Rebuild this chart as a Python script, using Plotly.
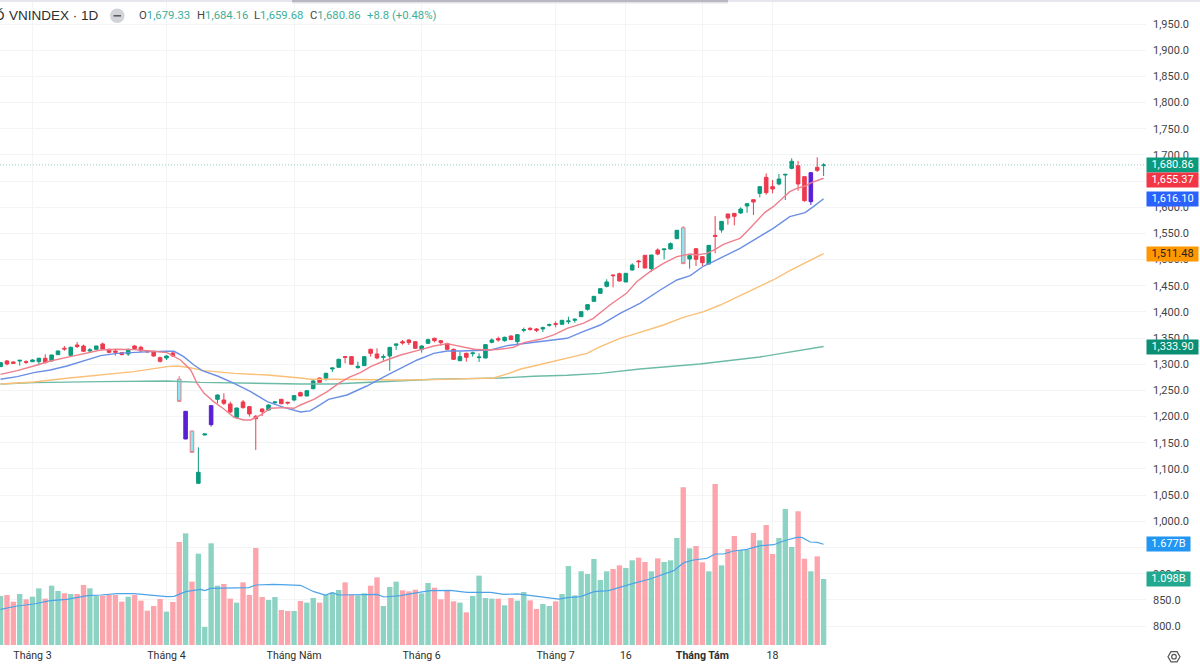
import plotly.graph_objects as go

opens = [1295.5,1306.3,1304.4,1306.3,1305.0,1305.0,1305.0,1311.4,1306.3,1318.4,
1330.5,1317.1,1336.8,1334.9,1325.4,1328.6,1338.8,1328.6,1325.4,1322.2,
1319.7,1334.9,1332.4,1326.0,1324.8,1312.7,1312.0,1321.6,1271.9,1210.1,
1172.6,1072.6,1164.9,1221.0,1233.1,1231.8,1224.2,1198.7,1228.0,1219.1,
1200.6,1214.6,1212.7,1226.7,1233.1,1227.3,1231.8,1245.8,1239.4,1253.4,
1273.8,1273.2,1291.0,1294.2,1314.6,1314.6,1293.6,1297.4,1328.6,1319.7,
1313.3,1315.8,1336.2,1343.2,1346.4,1343.2,1328.6,1340.0,1349.6,1345.1,
1339.4,1328.6,1306.9,1320.9,1320.3,1312.7,1312.0,1341.9,1349.0,1345.1,
1354.0,1343.2,1364.9,1368.7,1367.4,1367.4,1374.4,1377.6,1376.3,1381.4,
1384.0,1390.9,1405.0,1420.2,1435.5,1448.9,1470.5,1473.1,1457.2,1480.1,
1497.3,1508.1,1482.6,1518.3,1518.9,1520.2,1539.9,1560.9,1501.1,1520.8,
1505.6,1491.5,1546.3,1556.5,1587.1,1588.3,1589.0,1602.3,1614.4,1626.5,
1657.1,1639.3,1644.4,1661.5,1674.3,1679.4,1658.4,1666.0,1676.2,1679.33]

highs = [1303.5,1308.2,1305.7,1307.6,1307.6,1309.5,1312.7,1319.0,1318.2,1325.9,
1334.9,1333.7,1342.6,1337.5,1331.1,1335.4,1341.3,1329.8,1329.8,1323.5,
1329.8,1336.8,1335.6,1327.3,1326.0,1314.6,1317.1,1324.8,1277.6,1210.6,
1173.0,1141.4,1167.2,1221.5,1242.6,1244.5,1228.6,1217.0,1231.8,1220.3,
1203.1,1215.9,1223.5,1229.2,1233.6,1228.6,1241.3,1247.7,1250.0,1270.0,
1274.3,1284.0,1293.6,1310.7,1315.8,1315.8,1305.0,1315.0,1329.8,1330.5,
1319.0,1332.8,1339.2,1346.4,1347.7,1343.8,1336.2,1349.0,1350.9,1346.4,
1341.3,1329.8,1324.1,1322.2,1324.1,1320.9,1337.9,1349.6,1352.8,1352.8,
1355.3,1357.2,1370.0,1370.6,1369.3,1371.9,1377.6,1382.0,1384.5,1391.0,
1387.8,1401.0,1414.4,1430.2,1445.0,1462.3,1471.8,1475.0,1474.0,1492.8,
1499.2,1508.5,1509.0,1521.5,1520.6,1532.9,1556.3,1564.1,1510.7,1521.2,
1506.0,1527.6,1583.2,1573.4,1587.5,1588.7,1599.8,1607.2,1614.8,1639.7,
1664.7,1652.0,1663.5,1663.2,1693.4,1688.3,1658.8,1666.4,1695.3,1684.16]

lows = [1295.0,1298.0,1300.6,1297.4,1300.6,1304.4,1298.0,1301.8,1305.7,1318.0,
1326.0,1315.8,1331.1,1323.5,1323.5,1328.0,1328.6,1320.9,1316.5,1317.1,
1315.8,1327.9,1324.1,1322.2,1314.6,1303.1,1308.2,1314.6,1228.0,1156.8,
1131.2,1072.0,1164.6,1180.9,1225.4,1222.2,1206.3,1196.1,1215.2,1200.0,
1136.3,1201.2,1211.4,1222.2,1223.5,1222.9,1229.2,1239.0,1239.0,1252.2,
1265.0,1268.7,1285.3,1292.9,1301.8,1299.3,1291.6,1296.7,1314.6,1309.5,
1306.9,1287.8,1327.3,1337.5,1336.8,1329.2,1322.2,1338.8,1341.9,1335.6,
1327.3,1308.2,1305.6,1305.0,1314.6,1304.4,1311.4,1340.0,1343.2,1343.2,
1346.4,1336.8,1361.0,1364.2,1361.7,1361.7,1371.9,1370.6,1376.0,1377.0,
1379.5,1390.4,1402.4,1420.0,1435.0,1447.0,1447.0,1458.4,1457.0,1478.8,
1483.9,1483.5,1476.3,1508.1,1500.5,1519.6,1539.5,1491.6,1482.6,1487.7,
1487.7,1491.0,1511.9,1551.4,1566.7,1565.4,1587.1,1589.6,1585.1,1618.9,
1624.0,1626.5,1641.8,1613.8,1672.4,1631.6,1610.6,1604.2,1667.3,1659.68]

closes = [1303.1,1300.6,1301.8,1307.6,1303.7,1308.2,1311.4,1303.1,1317.7,1325.4,
1329.2,1332.4,1333.7,1324.8,1327.3,1334.9,1329.2,1322.8,1322.8,1318.4,
1328.6,1329.8,1325.4,1323.5,1315.8,1305.7,1315.8,1315.8,1229.2,1157.3,
1131.8,1093.6,1166.9,1184.7,1241.3,1225.4,1208.9,1216.5,1217.2,1205.1,
1196.1,1209.5,1222.2,1228.0,1224.8,1226.1,1240.1,1239.4,1249.6,1268.1,
1265.5,1282.7,1292.9,1309.5,1313.3,1299.9,1296.1,1314.6,1320.9,1312.0,
1314.6,1332.4,1338.8,1340.7,1341.3,1330.5,1334.9,1347.0,1345.1,1341.3,
1328.6,1309.5,1314.6,1313.3,1321.6,1313.9,1337.5,1346.4,1346.4,1351.5,
1347.0,1356.6,1366.1,1366.8,1364.9,1370.0,1375.7,1376.3,1384.0,1382.7,
1385.9,1400.5,1413.9,1429.8,1444.4,1457.2,1469.3,1459.1,1473.7,1489.6,
1496.0,1483.9,1508.7,1510.7,1520.2,1530.4,1555.9,1492.2,1507.5,1500.5,
1494.1,1527.2,1544.4,1573.0,1579.4,1582.6,1596.6,1606.8,1610.0,1639.3,
1627.8,1634.8,1653.9,1662.8,1687.7,1644.4,1612.5,1610.6,1670.5,1680.86]

# billions
volumes = [.815,.832,.721,.849,.760,.804,.943,.771,.987,.899,
.860,.849,.849,.998,.943,.821,.821,.832,.832,.721,
.804,.832,.738,.571,.649,.765,.555,.715,1.714,1.858,
1.054,1.520,.300,1.692,.987,1.015,.771,.704,1.043,.832,
1.614,.799,.749,.799,.582,.566,.566,.732,.704,.782,
.704,.837,.871,.915,1.043,.837,.826,.860,.987,1.126,
.649,.965,1.054,.910,.893,.921,.860,1.032,.954,.760,
.910,.727,.704,.544,.815,1.154,.782,.771,.771,.660,
.782,.738,.882,.743,.599,.682,.649,.727,.849,1.314,
.826,1.226,1.181,1.431,1.082,1.226,1.265,1.326,1.281,1.409,
1.453,1.381,1.226,1.442,1.381,1.409,1.780,2.623,1.608,1.647,
1.375,1.226,2.679,1.326,1.597,1.814,1.581,1.581,1.864,1.742,
1.997,1.514,1.780,2.263,1.631,2.224,1.436,1.226,1.475,1.098]

volume_sides = ("GRRGRGGRGG" "RGRRGGRRRR" "GRRRRRGRRG" "RGGGGRRGRR" "RRGGRRGRGG"
                "RGGGRRGGRR" "GGGRRRGGRR" "RRGRGGGGRG" "RGGRRGGRGG" "GGGGGGRRGG"
                "RRGRGGGRGR" "RGRGRRGGRG" "RRGGGRRGRG")

cyan_sessions = [28, 30, 107]
purple_sessions = [29, 33, 127]

ma_red_x = [0,2.6,5.2,7.8,10.4,13.1,15.7,18.3,20.9,23.5,26.1,28.2,29.8,30.8,31.9,33.4,35,36.6,38.1,39.2,40.8,42.3,44.4,46,47,
            49.1,51.2,53,54.6,56.4,58,60.1,62.7,65.3,67.9,70,72.1,74.2,76.3,78.3,80.4,82,84.6,86.7,88.8,91.3,92.9,95.5,98.1,99.7,101.8,103.9,106,108.1,
            109.1,110.7,112,113.3,114.9,115.9,117.2,118.5,119.8,121.1,122.4,123.7,124.8,126.1,127.1,128.2,129]
ma_red_y = [1280.8,1287.8,1296.7,1306.3,1313.3,1319.7,1327.3,1328.6,1327.9,1325.4,1322.2,1308.2,1289.1,1263.6,1244.5,1228.6,1214.6,1198.7,1193.6,1193.6,1203.1,1215.9,1217.2,1215.9,1222.2,
            1233.1,1247.7,1263.6,1275.1,1284,1295.5,1306.3,1317.7,1326,1334.9,1339.4,1333.7,1328.6,1327.3,1328.6,1332.4,1341.3,1347.7,1356,1368.7,1378.2,1387.8,1413.2,1435.5,1457.8,1476.9,1492.8,1505.6,1510.7,
            1508.7,1511.9,1519.6,1529.1,1536.1,1540.6,1556.5,1574.3,1590.2,1601.1,1615.1,1629.7,1636.1,1640.5,1646.9,1652,1655.37]

ma_blue_x = [0,2.6,5.2,7.8,10.4,13.1,15.7,18.3,20.9,23.5,26.1,27.2,28.7,30.3,31.6,34,36.6,39.2,41.8,44.4,47,48.5,50,
             51.4,54.3,57.4,60.6,62.7,65.3,67.9,70,72.1,74.2,76.8,79.4,82.5,85.7,88.8,91.3,94,97.1,100.2,103.4,106,108.1,110.2,
             111.7,113.8,115.9,118.5,121.1,123.7,124.8,126.1,127.4,129]
ma_blue_y = [1271.3,1276.4,1284,1289.1,1296.7,1306.9,1316.5,1320.9,1322.8,1324.1,1324.8,1324.8,1314.6,1298.6,1287.8,1277.6,1263.6,1247.7,1228.6,1217.8,1208.9,1211,1222,
             1233.1,1241.3,1258.5,1279.5,1292.3,1308.2,1320.9,1325.4,1325.4,1326,1327.3,1335.6,1340,1345.1,1349.6,1362.3,1375,1397.3,1416.4,1441.9,1461,1469.3,1487.7,
             1496,1508.7,1521.5,1540.6,1559.7,1582,1585.1,1589.6,1601.1,1616.1]

ma_orange_x = [0,5.2,10.4,15.7,20.9,26.1,27.7,29.3,31.9,36.6,41.8,47,48.6,52.2,57.4,62.7,67.9,73.1,77.3,79.4,81.5,83.6,86.7,89.8,91.9,94,97.1,99.7,103.9,107,110.2,112.8,121.1,123.7,126.3,129]
ma_orange_y = [1262.4,1266.2,1273.2,1279.5,1285.9,1295.5,1296.7,1294.2,1287.8,1282.7,1279.5,1273.8,1271.3,1271.3,1270,1270,1270.6,1272.5,1273.8,1281.5,1291,1296.7,1306.3,1314.6,1320.9,1333.7,1349.6,1359.1,1375,1389.7,1400.5,1413.2,1461,1478.8,1494.7,1511.48]

ma_green_x = [0,5.2,15.7,26.1,31.3,36.6,47,52.2,57.4,62.7,67.9,73.1,78.3,83.6,88.8,94,100.2,109.6,119,129]
ma_green_y = [1262.4,1264.9,1266.8,1268.1,1265.5,1264.3,1262.4,1262.4,1265.5,1268.7,1271.3,1272.5,1273.8,1277,1278.9,1282.7,1291,1300.5,1314,1333.9]

vol_ma_x = [0,2.6,5.2,7.8,10.4,13.6,15.7,18.3,20.9,23.5,26.1,27.2,29,31.3,32,32.9,35.5,38.9,40,42.8,47,
            49.1,50.9,52,53,55.4,59,60.1,62.7,65.3,67.4,70.5,73.1,76.8,78.9,81,83.6,87.5,88.8,90.9,93,
            94,95.3,99.2,101.8,105.5,107.1,108.6,110.7,112,113.3,114.9,117,119.1,121.2,122.7,124.8,125.6,126.9,128,129]
vol_ma_y = [.593,.649,.682,.738,.76,.821,.832,.854,.854,.832,.804,.81,.887,.926,.904,.943,.943,.954,.998,1.009,.993,
            .887,.832,.871,.832,.832,.843,.799,.821,.871,.904,.91,.876,.876,.843,.849,.815,.765,.788,.804,.887,
            .893,.904,1.026,1.098,1.237,1.37,1.414,1.442,1.514,1.514,1.564,1.592,1.653,1.669,1.73,1.791,1.791,1.714,1.708,1.677]

month_ticks = [5, 26, 46, 66, 87, 98, 110, 121]
month_labels = ["Tháng 3", "Tháng 4", "Tháng Năm", "Tháng 6", "Tháng 7", "16", "<b>Tháng Tám</b>", "18"]
price_ticks = [800 + 50 * k for k in range(24)]

header_labels = ["O", "H", "L", "C"]
header_values = ["1,679.33", "1,684.16", "1,659.68", "1,680.86"]
header_change = "+8.8 (+0.48%)"
title_head = "Ố"
title_text = "VNINDEX · 1D"

tags_price = [(1680.86, "1,680.86", "#0b9a7d", "white", 0),
              (1655.37, "1,655.37", "#f23645", "white", 2),
              (1616.10, "1,616.10", "#2962ff", "white", 0),
              (1511.48, "1,511.48", "#ff9800", "#222222", 0),
              (1333.90, "1,333.90", "#0b8f74", "white", 0)]
tags_volume = [(1.677, "1.677B", "#2196f3", "white"),
               (1.098, "1.098B", "#22a88f", "white")]

W, H = 1200, 664
PW, PH = 1146, 645
FONT = "Roboto, 'Liberation Sans', sans-serif"
def px(x): return x / PW
def py(y): return 1 - y / PH

n = len(closes)
xs = list(range(n))
fig = go.Figure()

# volume
vol_up = [i for i in xs if volume_sides[i] == "G"]
vol_dn = [i for i in xs if volume_sides[i] == "R"]
for idx, col in ((vol_up, "#8dd3c3"), (vol_dn, "#fca5ad")):
    fig.add_trace(go.Bar(x=idx, y=[volumes[i] for i in idx], width=0.84, marker=dict(color=col, line=dict(width=0)),
                         yaxis="y2", showlegend=False, hoverinfo="skip"))
fig.add_trace(go.Scatter(x=vol_ma_x, y=vol_ma_y, mode="lines", line=dict(color="#4da3e8", width=1.2), yaxis="y2",
                         showlegend=False, hoverinfo="skip"))

# moving averages
for xv, yv, col in ((ma_green_x, ma_green_y, "#6dbba6"), (ma_orange_x, ma_orange_y, "#fbbf77"),
                    (ma_blue_x, ma_blue_y, "#6b8fe6"), (ma_red_x, ma_red_y, "#ef7f8b")):
    fig.add_trace(go.Scatter(x=xv, y=yv, mode="lines", line=dict(color=col, width=1.4), showlegend=False, hoverinfo="skip"))

# candles
special = set(cyan_sessions) | set(purple_sessions)
green = [i for i in xs if i not in special and closes[i] >= opens[i]]
red = [i for i in xs if i not in special and closes[i] < opens[i]]
for idx, fill, line in ((green, "#0b9a7d", "#0b9a7d"), (red, "#ee3a4e", "#ee3a4e"),
                        (cyan_sessions, "#8ce6ef", "#e8808c"), (purple_sessions, "#5a1fd6", "#5a1fd6")):
    style = dict(fillcolor=fill, line=dict(color=line, width=1))
    fig.add_trace(go.Candlestick(x=idx, open=[opens[i] for i in idx], high=[highs[i] for i in idx],
                                 low=[lows[i] for i in idx], close=[closes[i] for i in idx],
                                 increasing=style, decreasing=style, whiskerwidth=0,
                                 showlegend=False, hoverinfo="skip"))

shapes = [
    dict(type="line", xref="paper", yref="y", x0=0, x1=1, y0=closes[-1], y1=closes[-1],
         line=dict(color="#7cc7b8", width=0.8, dash="1px,2px")),
    dict(type="rect", xref="paper", yref="paper", x0=0, x1=W / PW, y0=py(2), y1=py(0), fillcolor="#e6e6ee", line=dict(width=0)),
    dict(type="rect", xref="paper", yref="paper", x0=px(292), x1=px(728), y0=py(2), y1=py(0), fillcolor="#b8b8c0", line=dict(width=0)),
    dict(type="rect", xref="paper", yref="paper", x0=px(292), x1=px(728), y0=py(3.5), y1=py(2), fillcolor="#e4e4e8", line=dict(width=0)),
    dict(type="circle", xref="paper", yref="paper", x0=px(110), x1=px(124.5), y0=py(23), y1=py(8.5), fillcolor="#d2d3d8", line=dict(width=0)),
    dict(type="line", xref="paper", yref="paper", x0=px(113.5), x1=px(121), y0=py(15.8), y1=py(15.8), line=dict(color="#555555", width=1.5)),
    dict(type="circle", xref="paper", yref="paper", x0=px(1171.7), x1=px(1176.3), y0=py(659), y1=py(654.4), line=dict(color="#555555", width=1.2)),
    dict(type="path", xref="paper", yref="paper",
         path="M {} {} L {} {} L {} {} L {} {} L {} {} L {} {} Z".format(
             px(1168), py(656.7), px(1171), py(651.6), px(1177), py(651.6),
             px(1180), py(656.7), px(1177), py(661.8), px(1171), py(661.8)),
         line=dict(color="#555555", width=1.2)),
]

annotations = [
    dict(xref="paper", yref="paper", x=px(6.5), y=py(15.5), xanchor="right", yanchor="middle", showarrow=False,
         text=title_head, font=dict(family="'Liberation Sans', sans-serif", size=13.5, color="#2e2e2e")),
    dict(xref="paper", yref="paper", x=px(7), y=py(15.5), xanchor="left", yanchor="middle", showarrow=False,
         text=title_text, font=dict(family="'Liberation Sans', sans-serif", size=13.5, color="#2e2e2e")),
]
for xp, lab, val in zip((137, 195, 252, 307.5), header_labels, header_values):
    annotations.append(dict(xref="paper", yref="paper", x=px(xp), y=py(15.5), xanchor="left", yanchor="middle", showarrow=False,
                            text=f'<span style="color:#444444">{lab}</span><span style="color:#3fae98">{val}</span>',
                            font=dict(family=FONT, size=11.3)))
annotations.append(dict(xref="paper", yref="paper", x=px(365), y=py(15.5), xanchor="left", yanchor="middle", showarrow=False,
                        text=header_change, font=dict(family=FONT, size=11.3, color="#3fae98")))

for val, txt, bg, fg, shift in tags_price:
    annotations.append(dict(xref="paper", yref="y", x=1, y=val, xanchor="left", yanchor="middle", showarrow=False, yshift=-shift,
                            text=txt, bgcolor=bg, width=51, height=13.5, borderpad=0, align="center",
                            font=dict(family=FONT, size=11, color=fg)))
for val, txt, bg, fg in tags_volume:
    annotations.append(dict(xref="paper", yref="y2", x=1, y=val, xanchor="left", yanchor="middle", showarrow=False,
                            text=txt, bgcolor=bg, width=43, height=13.5, borderpad=0, align="center",
                            font=dict(family=FONT, size=11, color=fg)))

grid = "#f3f4f6"
fig.update_layout(
    width=W, height=H, margin=dict(l=0, r=W - PW, t=0, b=H - PH), paper_bgcolor="white", plot_bgcolor="white",
    showlegend=False, boxgap=0.2, barmode="overlay", shapes=shapes, annotations=annotations,
    xaxis=dict(range=[-0.09, 179.53], tickmode="array", tickvals=month_ticks, ticktext=month_labels,
               showgrid=True, gridcolor=grid, gridwidth=1, zeroline=False, showline=False, ticks="",
               ticklabelstandoff=2, rangeslider=dict(visible=False), tickfont=dict(family=FONT, size=10.6, color="#2e2e2e")),
    yaxis=dict(side="right", range=[763.75, 1995.85], tickmode="array", tickvals=price_ticks, tickformat=",.1f",
               showgrid=True, gridcolor=grid, gridwidth=1, zeroline=False, showline=False, ticks="",
               ticklabelstandoff=6, tickfont=dict(family=FONT, size=11, color="#444444")),
    yaxis2=dict(overlaying="y", side="right", range=[0, 10.732], visible=False, showgrid=False, zeroline=False),
)

fig.write_html("out.html", config=dict(displayModeBar=False), post_script="document.body.style.margin='0';")
